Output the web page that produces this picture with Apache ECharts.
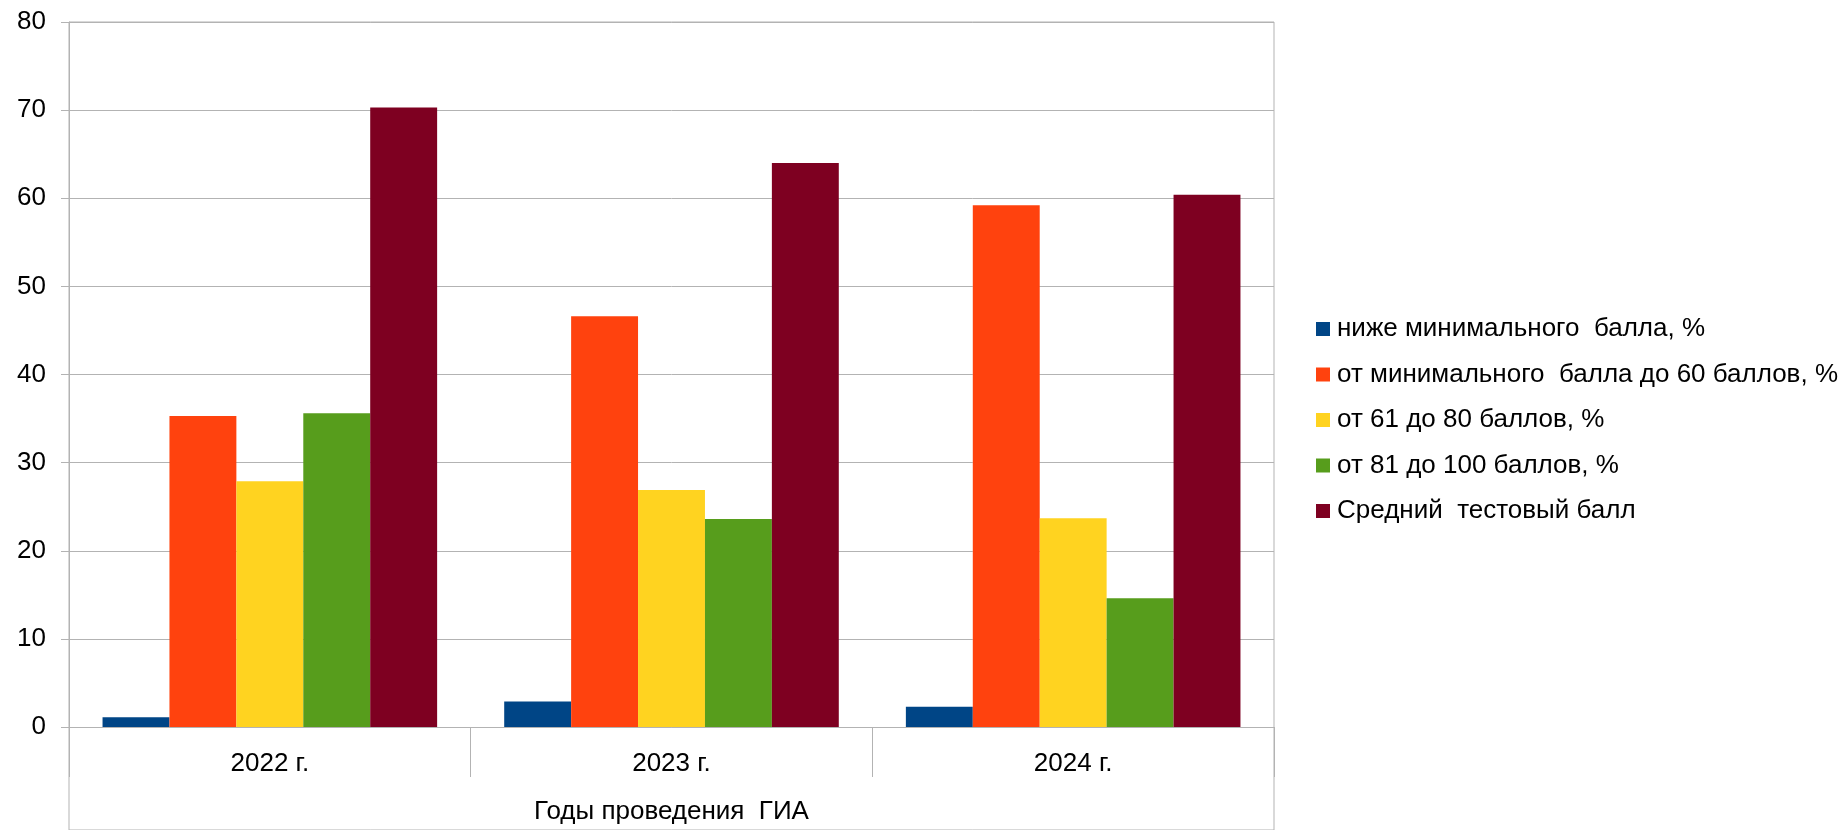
<!DOCTYPE html>
<html>
<head>
<meta charset="utf-8">
<script src="https://cdn.jsdelivr.net/npm/echarts@6/dist/echarts.min.js"></script>
<style>
html,body{margin:0;padding:0;background:#fff;}
#chart{width:1847px;height:830px;}
</style>
</head>
<body>
<div id="chart"></div>
<script>
var categories = ['2022 г.', '2023 г.', '2024 г.'];
var seriesNames = [
  'ниже минимального  балла, %',
  'от минимального  балла до 60 баллов, %',
  'от 61 до 80 баллов, %',
  'от 81 до 100 баллов, %',
  'Средний  тестовый балл'
];
var belowMin = [1.1, 2.9, 2.3];
var minTo60 = [35.3, 46.6, 59.2];
var from61to80 = [27.9, 26.9, 23.7];
var from81to100 = [35.6, 23.6, 14.6];
var avgScore = [70.3, 64.0, 60.4];
var colors = ['#004586', '#ff420e', '#ffd320', '#579d1c', '#7e0021'];
var yTicks = {min: 0, max: 80, interval: 10};
var xAxisTitle = 'Годы проведения  ГИА';

var seriesData = [belowMin, minTo60, from61to80, from81to100, avgScore];
var font = '"Liberation Sans", Arial, sans-serif';
var gridColor = '#b3b3b3';

var chart = echarts.init(document.getElementById('chart'), null, {renderer: 'canvas'});
chart.setOption({
  animation: false,
  color: colors,
  textStyle: {fontFamily: font, color: '#000'},
  grid: [
    {left: 69, right: 573, top: 22, bottom: 96, containLabel: false},
    {left: 69, right: 573, top: 22, bottom: -4, show: true, borderColor: gridColor, borderWidth: 1, backgroundColor: 'transparent'}
  ],
  legend: {
    orient: 'vertical',
    left: 1316,
    top: 316,
    padding: 0,
    itemWidth: 14,
    itemHeight: 14,
    itemGap: 19.5,
    icon: 'rect',
    textStyle: {fontFamily: font, fontSize: 26, color: '#000', lineHeight: 26, padding: [0, 0, 0, 2]},
    data: seriesNames
  },
  xAxis: [
    {
      type: 'category',
      data: categories,
      gridIndex: 0,
      axisLine: {show: true, lineStyle: {color: gridColor, width: 1}},
      axisTick: {show: true, length: 50, lineStyle: {color: gridColor}},
      axisLabel: {fontFamily: font, fontSize: 26, color: '#000', margin: 24},
      name: xAxisTitle,
      nameLocation: 'middle',
      nameGap: 72,
      nameTextStyle: {fontFamily: font, fontSize: 26, color: '#000', verticalAlign: 'top'}
    },
    {type: 'category', data: categories, gridIndex: 1, show: false}
  ],
  yAxis: [
    {
      type: 'value',
      gridIndex: 0,
      min: yTicks.min,
      max: yTicks.max,
      interval: yTicks.interval,
      axisLine: {show: true, lineStyle: {color: gridColor}},
      axisTick: {show: true, length: 8, lineStyle: {color: gridColor}},
      axisLabel: {fontFamily: font, fontSize: 26, color: '#000', margin: 23},
      splitLine: {show: true, lineStyle: {color: gridColor, width: 1}}
    },
    {type: 'value', gridIndex: 1, show: false, min: 0, max: 1}
  ],
  series: seriesNames.map(function (n, i) {
    return {
      name: n,
      type: 'bar',
      xAxisIndex: 0,
      yAxisIndex: 0,
      data: seriesData[i],
      barGap: '0%',
      barCategoryGap: '16.7%'
    };
  })
});
</script>
</body>
</html>
